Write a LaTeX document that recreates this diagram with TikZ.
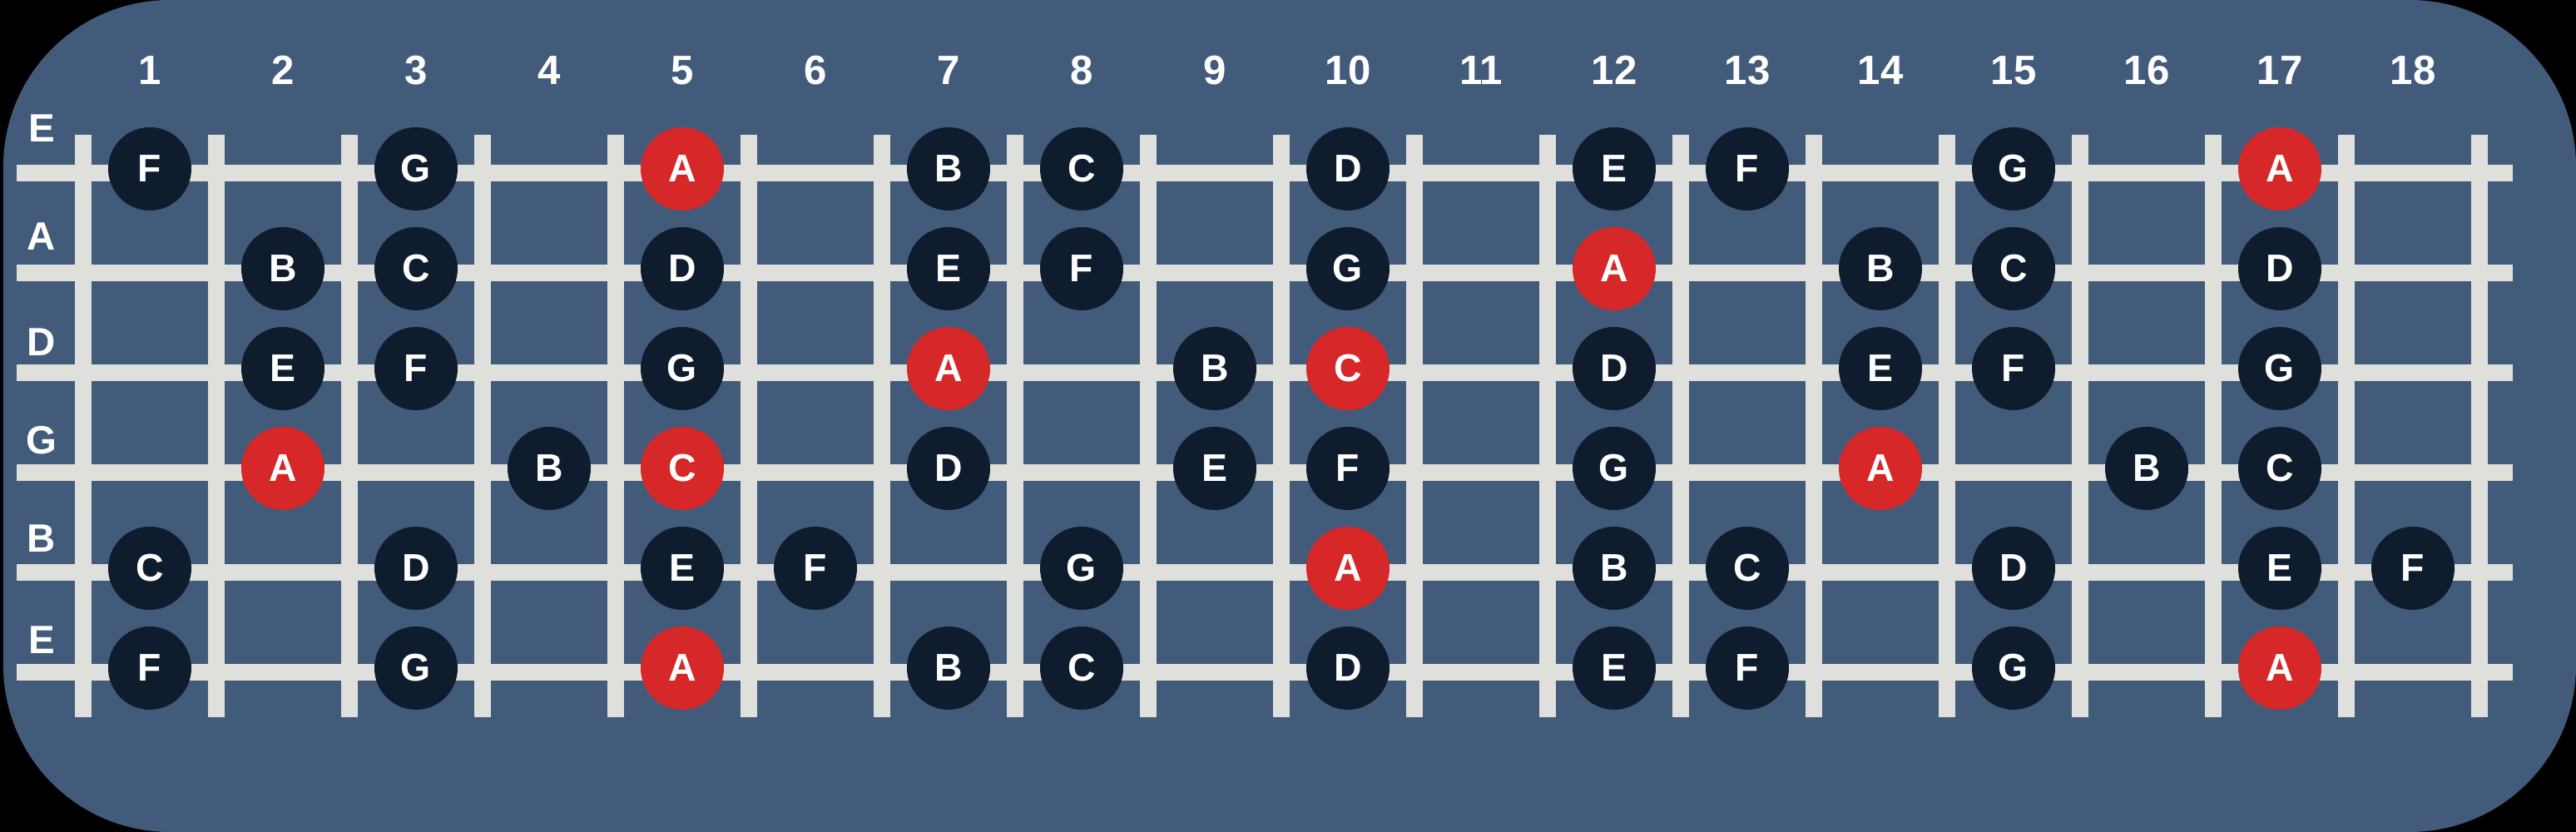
\documentclass[tikz,border=0pt]{standalone}
\usepackage{fontspec}
\setmainfont{Liberation Sans}
\usetikzlibrary{positioning}
\definecolor{boardblue}{HTML}{425B7A}
\definecolor{wirewhite}{HTML}{DFE0DC}
\definecolor{notedark}{HTML}{0F1C2D}
\definecolor{notered}{HTML}{D62828}
\newcommand{\FretboardFretGap}{1.6}
\newcommand{\FretboardStringGap}{1.2}
\tikzset{
	wire/.style={wirewhite, line width=0.2cm},
	fretnum/.style={text=white, anchor=base, inner sep=0pt, font=\bfseries\fontsize{14}{14}\selectfont},
	stringname/.style={text=white, anchor=base, inner sep=0pt, font=\bfseries\fontsize{13.5}{13.5}\selectfont},
	note/.style={circle, fill=notedark, text=white, minimum size=1cm, inner sep=0pt, font=\bfseries\fontsize{13.2}{13.2}\selectfont},
	root/.style={note, fill=notered},
}

\begin{document}
\begin{tikzpicture}
		\useasboundingbox (0,0) rectangle (30.96,-10);
		\fill[black] (0,0) rectangle (30.96,-10);
		\fill[boardblue, rounded corners=2cm] (0.04,0) rectangle (30.96,-10);
		% strings
		\foreach \s in {1,...,6} {
			\coordinate (sl\s) at (0.2, -0.88-\FretboardStringGap*\s);
			\coordinate (sr\s) at (30.2, -0.88-\FretboardStringGap*\s);
			\draw[wire] (sl\s) -- (sr\s);
		}
		% frets
		\foreach \k in {0,...,18} {
			\coordinate (ft\k) at (1.0+\FretboardFretGap*\k, -1.62);
			\coordinate (fb\k) at (1.0+\FretboardFretGap*\k, -8.62);
			\draw[wire] (ft\k) -- (fb\k);
		}
		% fret numbers
		\foreach \f in {1,...,18} {
			\node[fretnum] (num\f) at (0.2+\FretboardFretGap*\f, -1.02) {\f};
		}
		% string names
		\foreach \s/\y/\n in {1/1.71/E, 2/3.01/A, 3/4.28/D, 4/5.46/G, 5/6.64/B, 6/7.86/E} {
			\node[stringname] (name\s) at (0.5, -\y) {\n};
		}
		% notes
		\foreach \s/\f/\n/\k in {
			1/1/F/note, 1/3/G/note, 1/5/A/root, 1/7/B/note, 1/8/C/note, 1/10/D/note, 1/12/E/note, 1/13/F/note, 1/15/G/note, 1/17/A/root,
			2/2/B/note, 2/3/C/note, 2/5/D/note, 2/7/E/note, 2/8/F/note, 2/10/G/note, 2/12/A/root, 2/14/B/note, 2/15/C/note, 2/17/D/note,
			3/2/E/note, 3/3/F/note, 3/5/G/note, 3/7/A/root, 3/9/B/note, 3/10/C/root, 3/12/D/note, 3/14/E/note, 3/15/F/note, 3/17/G/note,
			4/2/A/root, 4/4/B/note, 4/5/C/root, 4/7/D/note, 4/9/E/note, 4/10/F/note, 4/12/G/note, 4/14/A/root, 4/16/B/note, 4/17/C/note,
			5/1/C/note, 5/3/D/note, 5/5/E/note, 5/6/F/note, 5/8/G/note, 5/10/A/root, 5/12/B/note, 5/13/C/note, 5/15/D/note, 5/17/E/note, 5/18/F/note,
			6/1/F/note, 6/3/G/note, 6/5/A/root, 6/7/B/note, 6/8/C/note, 6/10/D/note, 6/12/E/note, 6/13/F/note, 6/15/G/note, 6/17/A/root} {
			\node[\k] (n\s-\f) at (0.2+\FretboardFretGap*\f, -0.83-\FretboardStringGap*\s) {\n};
		}
	\end{tikzpicture}
\end{document}
